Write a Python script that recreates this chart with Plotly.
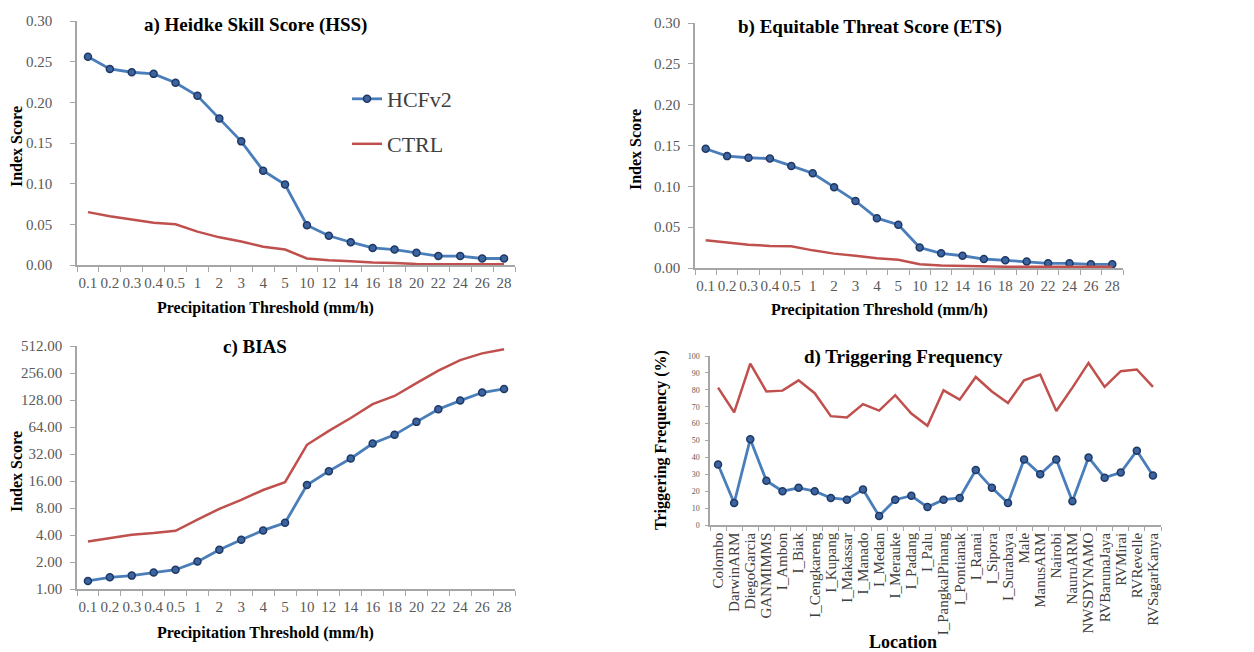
import plotly.graph_objects as go

thresholds = ["0.1", "0.2", "0.3", "0.4", "0.5", "1", "2", "3", "4", "5", "10", "12", "14", "16", "18", "20", "22", "24", "26", "28"]

hss_hcf = [0.256, 0.241, 0.237, 0.235, 0.224, 0.208, 0.180, 0.152, 0.116, 0.099, 0.049, 0.036, 0.028, 0.021, 0.019, 0.015, 0.011, 0.011, 0.008, 0.008]
hss_ctrl = [0.065, 0.060, 0.056, 0.052, 0.050, 0.041, 0.034, 0.029, 0.0225, 0.019, 0.008, 0.0057, 0.0045, 0.003, 0.0025, 0.0012, 0.001, 0.001, 0.001, 0.001]

ets_hcf = [0.146, 0.137, 0.135, 0.134, 0.125, 0.116, 0.099, 0.082, 0.061, 0.053, 0.025, 0.018, 0.015, 0.011, 0.0094, 0.008, 0.0057, 0.0057, 0.0045, 0.0045]
ets_ctrl = [0.034, 0.031, 0.0286, 0.027, 0.0265, 0.0216, 0.0176, 0.015, 0.0118, 0.010, 0.0045, 0.003, 0.0024, 0.002, 0.0016, 0.0016, 0.0014, 0.0014, 0.0014, 0.0014]

bias_hcf = [1.23, 1.35, 1.41, 1.53, 1.64, 2.02, 2.74, 3.54, 4.5, 5.48, 14.4, 20.6, 28.5, 41.9, 52.3, 73, 101, 126, 155, 170]
bias_ctrl = [3.39, 3.70, 4.03, 4.2, 4.46, 5.92, 7.84, 9.87, 12.7, 15.5, 40.5, 58, 80.6, 115, 142, 197, 272, 357, 424, 471]
bias_ticks = [1, 2, 4, 8, 16, 32, 64, 128, 256, 512]
bias_ticktext = ["1.00", "2.00", "4.00", "8.00", "16.00", "32.00", "64.00", "128.00", "256.00", "512.00"]

locations = ["Colombo", "DarwinARM", "DiegoGarcia", "GANMIMMS", "I_Ambon", "I_Biak", "I_Cengkareng", "I_Kupang",
             "I_Makassar", "I_Manado", "I_Medan", "I_Merauke", "I_Padang", "I_Palu", "I_PangkalPinang", "I_Pontianak",
             "I_Ranai", "I_Sipora", "I_Surabaya", "Male", "ManusARM", "Nairobi", "NauruARM", "NWSDYNAMO",
             "RVBarunaJaya", "RVMirai", "RVRevelle", "RVSagarKanya"]
trig_hcf = [35.8, 13, 50.8, 26.2, 20, 22, 20, 16, 15, 21, 5.3, 15, 17.3, 10.6, 15, 16,
            32.5, 22, 13, 38.8, 30, 38.8, 14, 40, 28, 31, 44, 29.3]
trig_ctrl = [81.3, 66.7, 95.5, 79, 79.5, 85.6, 78, 64.4, 63.6, 71.5, 67.7, 76.8, 66, 58.7, 79.7, 74.2,
             87.6, 79, 72.2, 85.6, 89, 67.5, 81.3, 95.9, 81.7, 91, 92, 81.7]

W, H = 1254, 652
SERIF = "Liberation Serif"
BLUE = "#4A7EBB"
RED = "#C0504D"
MK = dict(symbol="circle", size=7, color="#3B64A0", line=dict(color="#1F3864", width=1.5))
AXC = "#A6A6A6"
TICKC = "#595959"

n_thr = len(thresholds)
n_loc = len(locations)


def px_x(a, b):
    return [a / W, b / W]


def px_y(top, bottom):
    return [(H - bottom) / H, (H - top) / H]


fig = go.Figure()

# panel a
fig.add_trace(go.Scatter(x=thresholds, y=hss_hcf, mode="lines+markers", name="HCFv2",
                         line=dict(color=BLUE, width=2.8), marker=MK, xaxis="x", yaxis="y", legend="legend"))
fig.add_trace(go.Scatter(x=thresholds, y=hss_ctrl, mode="lines", name="CTRL",
                         line=dict(color=RED, width=2.5), xaxis="x", yaxis="y", legend="legend2"))
# panel b
fig.add_trace(go.Scatter(x=thresholds, y=ets_hcf, mode="lines+markers", showlegend=False,
                         line=dict(color=BLUE, width=2.8), marker=MK, xaxis="x2", yaxis="y2"))
fig.add_trace(go.Scatter(x=thresholds, y=ets_ctrl, mode="lines", showlegend=False,
                         line=dict(color=RED, width=2.5), xaxis="x2", yaxis="y2"))
# panel c
fig.add_trace(go.Scatter(x=thresholds, y=bias_hcf, mode="lines+markers", showlegend=False,
                         line=dict(color=BLUE, width=2.8), marker=MK, xaxis="x3", yaxis="y3"))
fig.add_trace(go.Scatter(x=thresholds, y=bias_ctrl, mode="lines", showlegend=False,
                         line=dict(color=RED, width=2.5), xaxis="x3", yaxis="y3"))
# panel d
fig.add_trace(go.Scatter(x=locations, y=trig_hcf, mode="lines+markers", showlegend=False,
                         line=dict(color=BLUE, width=2.8), marker=MK, xaxis="x4", yaxis="y4"))
fig.add_trace(go.Scatter(x=locations, y=trig_ctrl, mode="lines", showlegend=False,
                         line=dict(color=RED, width=2.5), xaxis="x4", yaxis="y4"))

tickfont = dict(family=SERIF, size=15, color=TICKC)
xcommon = dict(type="category", showline=True, linecolor=AXC, linewidth=1.5, ticks="outside",
               tickson="boundaries", ticklen=5, tickcolor=AXC, showgrid=False, zeroline=False,
               tickfont=tickfont, tickangle=0, ticklabelstandoff=3, automargin=False,
               range=[-0.5, n_thr - 0.5])
ycommon = dict(showline=True, linecolor=AXC, linewidth=1.5, ticks="outside", ticklen=5, tickcolor=AXC,
               showgrid=False, zeroline=False, tickfont=tickfont, automargin=False)

fig.update_layout(
    width=W, height=H, margin=dict(l=0, r=0, t=0, b=0, autoexpand=False),
    paper_bgcolor="white", plot_bgcolor="white",
    xaxis=dict(domain=px_x(77, 515), anchor="y", **xcommon),
    yaxis=dict(domain=px_y(21, 265), anchor="x", range=[0, 0.30], dtick=0.05, tickformat=".2f",
               ticklabelstandoff=15, **ycommon),
    xaxis2=dict(domain=px_x(695, 1123), anchor="y2", **xcommon),
    yaxis2=dict(domain=px_y(23, 268), anchor="x2", range=[0, 0.30], dtick=0.05, tickformat=".2f",
                ticklabelstandoff=5, **ycommon),
    xaxis3=dict(domain=px_x(77, 515), anchor="y3", **xcommon),
    yaxis3=dict(domain=px_y(346, 589), anchor="x3", type="log", range=[0, 2.70927],
                tickmode="array", tickvals=bias_ticks, ticktext=bias_ticktext, ticklabelstandoff=5, **ycommon),
    xaxis4=dict(domain=px_x(710, 1161), anchor="y4", type="category", showline=True, linecolor=AXC,
                linewidth=1.5, ticks="outside", tickson="boundaries", ticklen=4, tickcolor=AXC,
                showgrid=False, zeroline=False, tickangle=-90, tickmode="array", tickvals=locations,
                ticktext=locations, tickfont=dict(family=SERIF, size=15, color="#404040"), automargin=False,
                range=[-0.5, n_loc - 0.5]),
    yaxis4=dict(domain=px_y(356, 525), anchor="x4", range=[0, 100], dtick=10, showline=True, linecolor=AXC,
                linewidth=1.5, ticks="outside", ticklen=3, tickcolor=AXC, showgrid=False, zeroline=False,
                tickfont=dict(family=SERIF, size=8, color=TICKC), ticklabelstandoff=4, automargin=False),
    legend=dict(x=347 / W, y=(H - 99) / H, xanchor="left", yanchor="middle", bgcolor="rgba(0,0,0,0)",
                font=dict(family=SERIF, size=22, color="#404040"), itemwidth=30),
    legend2=dict(x=347 / W, y=(H - 144) / H, xanchor="left", yanchor="middle", bgcolor="rgba(0,0,0,0)",
                 font=dict(family=SERIF, size=22, color="#404040"), itemwidth=30),
)


def ann(text, x, y, size, angle=0):
    fig.add_annotation(text=f"<b>{text}</b>", x=x / W, y=(H - y) / H, xref="paper", yref="paper",
                       showarrow=False, textangle=angle, xanchor="center", yanchor="middle",
                       font=dict(family=SERIF, size=size, color="black"))


ann("a) Heidke Skill Score (HSS)", 255, 25, 19)
ann("b) Equitable Threat Score (ETS)", 870, 27, 19)
ann("c) BIAS", 255, 347, 19)
ann("d) Triggering Frequency", 903, 357, 19)

ann("Precipitation Threshold (mm/h)", 265, 308, 16)
ann("Precipitation Threshold (mm/h)", 879, 310, 16)
ann("Precipitation Threshold (mm/h)", 265, 633, 16)
ann("Location", 903, 642, 18)

ann("Index Score", 16, 147, 16, -90)
ann("Index Score", 635, 150, 16, -90)
ann("Index Score", 16, 472, 16, -90)
ann("Triggering Frequency (%)", 661, 440, 16, -90)

fig.write_html("out.html")
